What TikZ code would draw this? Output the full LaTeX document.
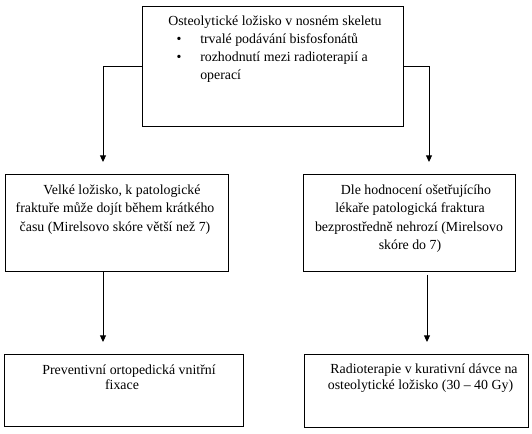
\documentclass[tikz,border=0pt]{standalone}
\usepackage{fontspec}
\setmainfont{Liberation Serif}
\usetikzlibrary{arrows.meta}
\begin{document}
\begin{tikzpicture}[x=0.75pt,y=-0.75pt,
  box/.style={draw=black,line width=0.75pt},
  conn/.style={draw=black,line width=0.75pt,-{Triangle[width=4.5pt,length=5pt]}},
  txt/.style={inner sep=0pt,font=\fontsize{10.4}{12.5}\selectfont},
  lc/.style={txt,anchor=base},
  lw/.style={txt,anchor=base west}]
\useasboundingbox (0,0) rectangle (532,434);
% boxes
\draw[box] (142,7) rectangle (403,127);
\draw[box] (5,175) rectangle (228,272);
\draw[box] (303,175) rectangle (515,272);
\draw[box] (4,355) rectangle (243,427);
\draw[box] (304,355) rectangle (528,428);
% anchor coordinates
\coordinate (topL) at (142,67);
\coordinate (topR) at (403,67);
\coordinate (mlT) at (103,162);
\coordinate (mrT) at (429,162);
\coordinate (mlB) at (103,272);
\coordinate (mrB) at (427,275);
\coordinate (blT) at (103,342);
\coordinate (brT) at (427,342);
% texts
\node[lw] (t1) at (168,26) {Osteolytické ložisko v nosném skeletu};
\node[lc] (b1) at (179,44) {•};
\node[lw] (t2) at (200,44) {trvalé podávání bisfosfonátů};
\node[lc] (b2) at (179,62) {•};
\node[lw] (t3) at (200,62) {rozhodnutí mezi radioterapií a};
\node[lw] (t4) at (200,80) {operací};
\node[lc] (m1) at (122,195) {Velké ložisko, k patologické};
\node[lc] (m2) at (115,213) {fraktuře může dojít během krátkého};
\node[lc] (m3) at (115,232) {času (Mirelsovo skóre větší než 7)};
\node[lc] (r1) at (416,195) {Dle hodnocení ošetřujícího};
\node[lc] (r2) at (410,213) {lékaře patologická fraktura};
\node[lc] (r3) at (409,232) {bezprostředně nehrozí (Mirelsovo};
\node[lc] (r4) at (410,250) {skóre do 7)};
\node[lc] (p1) at (129,375) {Preventivní ortopedická vnitřní};
\node[lc] (p2) at (122,390) {fixace};
\node[lc] (q1) at (424,374) {Radioterapie v kurativní dávce na};
\node[lc] (q2) at (420.5,390) {osteolytické ložisko (30 – 40 Gy)};
% connectors
\draw[conn] (topL) -| (mlT);
\draw[conn] (topR) -| (mrT);
\draw[conn] (mlB) -- (blT);
\draw[conn] (mrB) -- (brT);
\end{tikzpicture}
\end{document}
